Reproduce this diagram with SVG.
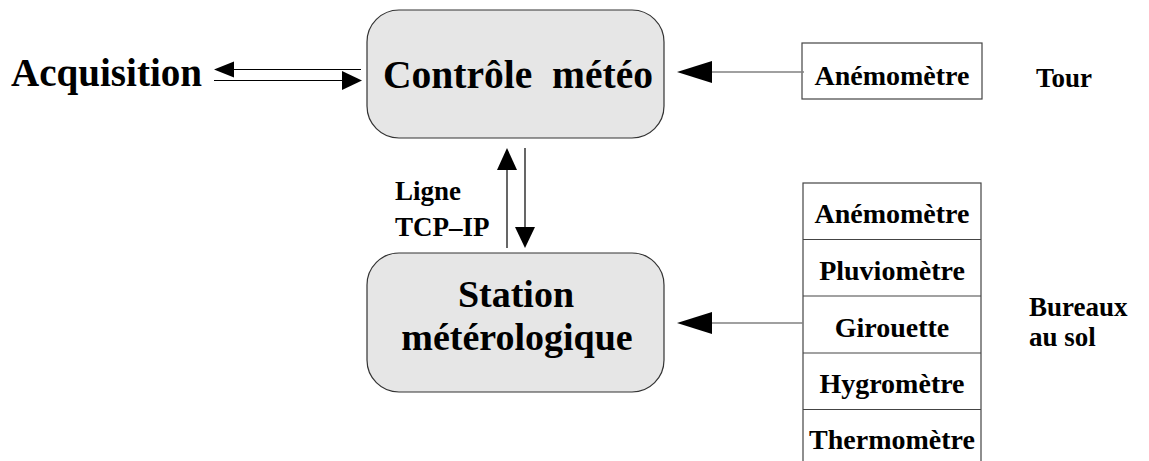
<svg xmlns="http://www.w3.org/2000/svg" width="1149" height="461" viewBox="0 0 1149 461">
<style>
text{font-family:"Liberation Serif","Times New Roman",serif;font-weight:bold;fill:#000}
.big{font-size:40px}
.mid{font-size:38px}
.sm{font-size:28px}
.lab{font-size:27px}
.c{text-anchor:middle}
.proc{fill:#e6e6e6;stroke:#333;stroke-width:1.2}
.box{fill:#fff;stroke:#444;stroke-width:1.2}
.ln{stroke:#000;stroke-width:1.2;fill:none}
.gl{stroke:#808080;stroke-width:1.4;fill:none}
.hd{fill:#000}
</style>
<rect width="1149" height="461" fill="#fff"/>
<g id="acquisition"><text class="big" x="11" y="86" textLength="191" lengthAdjust="spacingAndGlyphs">Acquisition</text></g>
<g id="controle"><rect class="proc" x="367" y="10" width="297" height="128" rx="32"/><text class="big" x="383" y="88" xml:space="preserve" textLength="270" lengthAdjust="spacingAndGlyphs">Contrôle  météo</text></g>
<g id="anemometre-tour"><rect class="box" x="802" y="43" width="180" height="56"/><text class="sm c" x="892" y="85">Anémomètre</text></g>
<g id="tour"><text class="lab" x="1036" y="87">Tour</text></g>
<g id="station"><rect class="proc" x="367" y="253" width="297" height="139" rx="32"/><text class="mid c" x="516" y="307">Station</text><text class="mid c" x="517" y="350">métérologique</text></g>
<g id="capteurs">
<rect class="box" x="803" y="183" width="178" height="290"/>
<line class="box" x1="803" y1="239.5" x2="981" y2="239.5"/>
<line class="box" x1="803" y1="296" x2="981" y2="296"/>
<line class="box" x1="803" y1="353" x2="981" y2="353"/>
<line class="box" x1="803" y1="409.5" x2="981" y2="409.5"/>
<text class="sm c" x="892" y="223">Anémomètre</text>
<text class="sm c" x="892" y="280">Pluviomètre</text>
<text class="sm c" x="892" y="337">Girouette</text>
<text class="sm c" x="892" y="393">Hygromètre</text>
<text class="sm c" x="892" y="449">Thermomètre</text>
</g>
<g id="bureaux"><text class="lab" x="1029" y="316">Bureaux</text><text class="lab" x="1029" y="346">au sol</text></g>
<g id="ligne"><text class="lab" x="395" y="200">Ligne</text><text class="lab" x="395" y="236">TCP–IP</text></g>
<g id="connectors">
<line class="ln" x1="232" y1="69.5" x2="361" y2="69.5"/>
<polygon class="hd" points="214,69.5 234,61.5 234,77.5"/>
<line class="ln" x1="214" y1="80.5" x2="343" y2="80.5"/>
<polygon class="hd" points="362,80.5 342,71 342,90"/>
<line class="gl" x1="711" y1="72" x2="804" y2="72"/>
<polygon class="hd" points="677,72 712,61 712,83"/>
<line class="gl" x1="711" y1="323" x2="803" y2="323"/>
<polygon class="hd" points="677,323 712,312 712,334"/>
<line class="ln" x1="507" y1="168" x2="507" y2="248"/>
<polygon class="hd" points="507,148 497,170 517,170"/>
<line class="ln" x1="525" y1="148" x2="525" y2="229"/>
<polygon class="hd" points="525,248 515,227 535,227"/>
</g>
</svg>
